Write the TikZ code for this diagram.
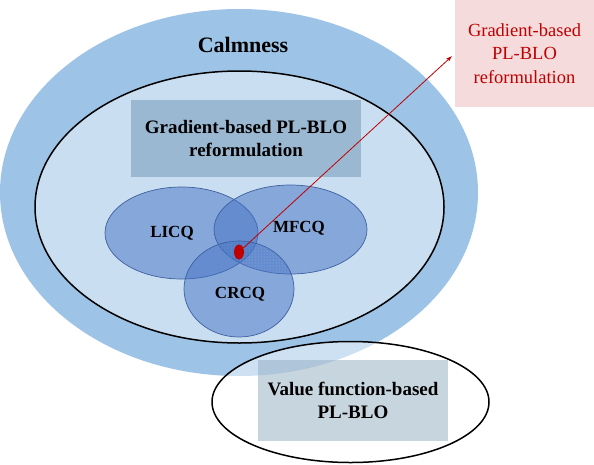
\documentclass[tikz,border=0pt]{standalone}
\usepackage{fontspec}
\setmainfont{Liberation Serif}
\usepackage{xcolor}
\usetikzlibrary{positioning, arrows.meta, shapes.geometric, patterns}
\definecolor{calmblue}{HTML}{9DC3E6}
\definecolor{gradfill}{HTML}{9BB8D3}
\definecolor{vennblue}{HTML}{4472C4}
\definecolor{vennedge}{HTML}{3F5F9F}
\definecolor{valfill}{HTML}{91ABC1}
\definecolor{notepink}{HTML}{F5DBDC}
\definecolor{notered}{HTML}{C00000}

\begin{document}
\begin{tikzpicture}[
  x=1pt, y=-1pt, >={Stealth[length=6pt, width=4pt]},
  setell/.style={ellipse, inner sep=0pt},
  venn/.style={ellipse, draw=vennedge, line width=0.7pt, fill=vennblue, fill opacity=0.5, inner sep=0pt},
  vlbl/.style={font=\fontsize{17}{20}\selectfont\bfseries},
  tbox/.style={rectangle, inner sep=0pt, align=center, font=\fontsize{19}{23}\selectfont\bfseries}]
\useasboundingbox (0,0) rectangle (594,464);
% outer set and the gradient-based set
\node[setell, fill=calmblue, minimum width=478pt, minimum height=367pt] (calm) at (239,192.5) {};
\node[font=\fontsize{22}{26}\selectfont\bfseries] (calmlbl) at (243,45) {Calmness};
\node[setell, draw, line width=1.5pt, fill=white, fill opacity=0.45, minimum width=409pt, minimum height=272pt] (grad) at (239.5,207) {};
\node[tbox, fill=gradfill, minimum width=230pt, minimum height=77pt] (gradlbl) at (246,138.5) {Gradient-based PL-BLO\\reformulation};
% constraint qualifications
\node[venn, minimum width=153pt, minimum height=92pt] (licq) at (181.5,233) {};
\node[venn, minimum width=153pt, minimum height=89pt] (mfcq) at (290.5,229.5) {};
\node[venn, minimum width=110pt, minimum height=96pt] (crcq) at (239,289) {};
\begin{scope}
  \clip (mfcq.center) ellipse [x radius=76.5, y radius=44.5];
  \fill[pattern=dots, pattern color=white, fill opacity=0.35] (crcq.center) ellipse [x radius=55, y radius=48];
\end{scope}
\node[vlbl] (licqlbl) at (172,233) {LICQ};
\node[vlbl] (mfcqlbl) at (299,228) {MFCQ};
\node[vlbl] (crcqlbl) at (240,294) {CRCQ};
\node[setell, fill=notered, minimum width=10pt, minimum height=15pt] (dot) at (239,252) {};
% value function-based set
\node[setell, draw, line width=1.5pt, fill=white, fill opacity=0.5, minimum width=277pt, minimum height=121pt] (val) at (350.5,402) {};
\node[tbox, fill=valfill, fill opacity=0.5, text opacity=1, minimum width=190pt, minimum height=81pt] (vallbl) at (353,400.5) {Value function-based\\PL-BLO};
% note
\node[rectangle, fill=notepink, inner sep=0pt, align=center, text=notered, font=\fontsize{18.5}{23.5}\selectfont, minimum width=139pt, minimum height=107pt] (note) at (524.5,53.5) {Gradient-based\\PL-BLO\\reformulation};
\draw[->, notered, line width=0.8pt, shorten >=4pt] (dot) -- (note.west);
\end{tikzpicture}
\end{document}
